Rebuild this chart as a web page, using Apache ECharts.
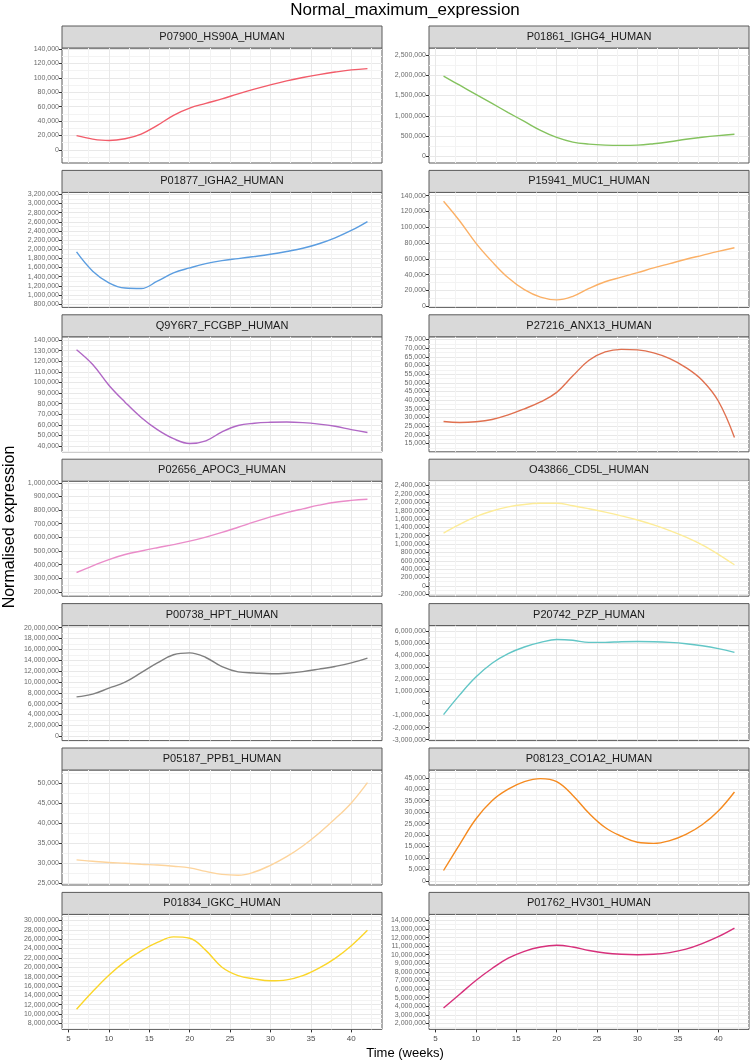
<!DOCTYPE html>
<html>
<head>
<meta charset="utf-8">
<script src="https://cdn.jsdelivr.net/npm/echarts@6/dist/echarts.min.js"></script>
<style>
html, body { margin: 0; padding: 0; background: #fff; }
#chart { width: 752px; height: 1063px; }
</style>
</head>
<body>
<div id="chart"></div>
<script>
// time points (weeks) shared by every panel
var weeks = [6, 8, 10, 12, 14, 16, 18, 20, 22, 24, 26, 28, 30, 32, 34, 36, 38, 40, 42];

var proteins = ['P07900_HS90A_HUMAN', 'P01861_IGHG4_HUMAN', 'P01877_IGHA2_HUMAN', 'P15941_MUC1_HUMAN',
  'Q9Y6R7_FCGBP_HUMAN', 'P27216_ANX13_HUMAN', 'P02656_APOC3_HUMAN', 'O43866_CD5L_HUMAN',
  'P00738_HPT_HUMAN', 'P20742_PZP_HUMAN', 'P05187_PPB1_HUMAN', 'P08123_CO1A2_HUMAN',
  'P01834_IGKC_HUMAN', 'P01762_HV301_HUMAN'];

var colors = ['#f25c6a', '#84c25e', '#5b9de0', '#fbb066', '#b067c5', '#e0704f', '#ea8cc9',
  '#fdec98', '#7f7f7f', '#62c6c6', '#fdd49c', '#f58a1f', '#fbd629', '#d7307b'];

var hs90a = [19700, 15000, 13000, 15500, 22000, 34000, 48000, 58000, 64500, 70800, 77800, 84300, 90300, 95800, 100500, 104500, 108000, 111000, 112800];
var ighg4 = [1980000, 1755000, 1530000, 1305000, 1080000, 860000, 640000, 465000, 350000, 300000, 275000, 268000, 275000, 310000, 360000, 420000, 470000, 510000, 542000];
var igha2 = [1940000, 1520000, 1265000, 1150000, 1140000, 1300000, 1480000, 1590000, 1685000, 1750000, 1795000, 1840000, 1890000, 1950000, 2020000, 2120000, 2250000, 2410000, 2605000];
var muc1 = [133000, 108000, 80000, 56500, 36000, 21000, 11500, 8000, 12500, 22500, 31000, 36800, 42500, 48500, 54000, 59500, 64500, 69500, 74000];
var fcgbp = [131000, 117000, 97500, 81500, 67000, 55500, 47000, 42500, 45000, 53500, 59500, 61600, 62500, 62800, 62200, 60800, 58700, 55600, 52900];
var anx13 = [27700, 27100, 27500, 28800, 31500, 35000, 39000, 44500, 54000, 63000, 67800, 69300, 69000, 67300, 64000, 58800, 51500, 39500, 18500];
var apoc3 = [342000, 391000, 437000, 474000, 500000, 524000, 547000, 572000, 602000, 636000, 674000, 713000, 750000, 781000, 809000, 836000, 858000, 871000, 880000];
var cd5l = [1264000, 1470000, 1655000, 1790000, 1890000, 1948000, 1975000, 1978000, 1918000, 1845000, 1765000, 1675000, 1575000, 1458000, 1322000, 1165000, 980000, 755000, 504000];
var hpt = [7250000, 7750000, 8850000, 9950000, 11700000, 13500000, 15000000, 15350000, 14500000, 12800000, 11850000, 11650000, 11500000, 11600000, 11900000, 12350000, 12850000, 13500000, 14380000];
var pzp = [-920000, 720000, 2200000, 3350000, 4150000, 4700000, 5080000, 5320000, 5260000, 5080000, 5080000, 5140000, 5160000, 5140000, 5080000, 4970000, 4800000, 4560000, 4250000];
var ppb1 = [30800, 30450, 30150, 29950, 29700, 29500, 29200, 28800, 27900, 27150, 26950, 27750, 29450, 31600, 34300, 37500, 41100, 45100, 50200];
var co1a2 = [4560, 16000, 27000, 35000, 40000, 43300, 44600, 43300, 37300, 29500, 23300, 19500, 16900, 16400, 17600, 20300, 24500, 30500, 38800];
var igkc = [11000000, 14800000, 18300000, 21200000, 23500000, 25300000, 26500000, 26200000, 23600000, 20000000, 18200000, 17500000, 17100000, 17300000, 18200000, 19800000, 21900000, 24600000, 27900000];
var hv301 = [3800000, 5400000, 7000000, 8400000, 9600000, 10400000, 10900000, 11100000, 10900000, 10500000, 10200000, 10050000, 10000000, 10050000, 10250000, 10650000, 11300000, 12100000, 13100000];

var seriesValues = [hs90a, ighg4, igha2, muc1, fcgbp, anx13, apoc3, cd5l, hpt, pzp, ppb1, co1a2, igkc, hv301];

// y axis extents and tick labels for every panel
var yMin = [-18200, -166700, 726000, -1500, 34650, 10190, 168200, -248000, -802000, -3084000, 24495, -1765, 6700000, 1300000];
var yMax = [141400, 2675000, 3244000, 144200, 143150, 76540, 1012000, 2504000, 20370000, 6478000, 53367, 48380, 31300000, 14700000];
var yTickFrom = [0, 0, 800000, 0, 40000, 15000, 200000, -200000, 0, -3000000, 25000, 0, 8000000, 2000000];
var yTickTo = [140000, 2500000, 3200000, 140000, 140000, 75000, 1000000, 2400000, 20000000, 6000000, 50000, 45000, 30000000, 14000000];
var yTickStep = [20000, 500000, 200000, 20000, 10000, 5000, 100000, 200000, 2000000, 1000000, 5000, 5000, 2000000, 1000000];

var xTicks = [5, 10, 15, 20, 25, 30, 35, 40];
var xMinorTicks = [7.5, 12.5, 17.5, 22.5, 27.5, 32.5, 37.5, 42.5];

var FONT = '"Liberation Sans", Arial, sans-serif';

function range(a, b, s) {
  var out = [];
  for (var v = a; v <= b + s * 1e-6; v += s) out.push(Math.round(v));
  return out;
}

var chart = echarts.init(document.getElementById('chart'));
var grids = [], xAxes = [], yAxes = [], series = [], graphics = [];

for (var i = 0; i < proteins.length; i++) {
  var col = i % 2, row = Math.floor(i / 2);
  var gridLeft = col === 0 ? 62 : 429;
  var stripTop = 26 + row * 144.4;
  var gridTop = stripTop + 22;
  var isBottom = row === 6;

  grids.push({ left: gridLeft, top: gridTop, width: 320, height: 115, show: true,
    backgroundColor: '#ffffff', borderColor: '#5a5a5a', borderWidth: 1 });

  var majors = range(yTickFrom[i], yTickTo[i], yTickStep[i]);
  var minors = range(yTickFrom[i] - yTickStep[i] / 2, yTickTo[i] + yTickStep[i] / 2, yTickStep[i])
    .filter(function (v) { return v > yMin[i] && v < yMax[i]; });

  // major grid + labels, then a label-less axis for the minor grid
  xAxes.push({
    gridIndex: i, type: 'value', min: 4.2, max: 43.8, position: 'bottom',
    axisLine: { show: false },
    axisTick: { show: isBottom, customValues: xTicks, length: 3, lineStyle: { color: '#333' } },
    axisLabel: { show: isBottom, customValues: xTicks, fontSize: 8, color: '#4d4d4d', margin: 5, fontFamily: FONT },
    splitLine: { show: true, lineStyle: { color: '#e8e8e8', width: 1 } }
  });
  xAxes.push({
    gridIndex: i, type: 'value', min: 4.2, max: 43.8, position: 'bottom',
    axisLine: { show: false },
    axisTick: { show: false, customValues: xMinorTicks },
    axisLabel: { show: false, customValues: xMinorTicks },
    splitLine: { show: true, lineStyle: { color: '#f3f3f3', width: 1 } }
  });
  yAxes.push({
    gridIndex: i, type: 'value', min: yMin[i], max: yMax[i], position: 'left',
    axisLine: { show: false },
    axisTick: { show: true, customValues: majors, length: 3, lineStyle: { color: '#333' } },
    axisLabel: { show: true, customValues: majors, fontSize: 7, color: '#6b6b6b', margin: 3, fontFamily: FONT,
      formatter: function (v) { return Number(v).toLocaleString('en-US'); } },
    splitLine: { show: true, lineStyle: { color: '#e8e8e8', width: 1 } }
  });
  yAxes.push({
    gridIndex: i, type: 'value', min: yMin[i], max: yMax[i], position: 'left',
    axisLine: { show: false },
    axisTick: { show: false, customValues: minors },
    axisLabel: { show: false, customValues: minors },
    splitLine: { show: true, lineStyle: { color: '#f3f3f3', width: 1 } }
  });

  series.push({
    type: 'line', name: proteins[i], xAxisIndex: 2 * i, yAxisIndex: 2 * i,
    data: weeks.map(function (w, k) { return [w, seriesValues[i][k]]; }),
    smooth: 0.4, showSymbol: false, symbol: 'none',
    lineStyle: { color: colors[i], width: 1.4 }, z: 5
  });

  graphics.push({
    type: 'rect', shape: { x: gridLeft, y: stripTop, width: 320, height: 22 },
    style: { fill: '#d9d9d9', stroke: '#5a5a5a', lineWidth: 1 }
  });
  graphics.push({
    type: 'text', x: gridLeft + 160, y: stripTop + 11,
    style: { text: proteins[i], fill: '#1a1a1a', font: '11px ' + FONT, align: 'center', verticalAlign: 'middle' }
  });
}

graphics.push({
  type: 'text', x: 405, y: 10,
  style: { text: 'Normal_maximum_expression', fill: '#000', font: '17px ' + FONT, align: 'center', verticalAlign: 'middle' }
});
graphics.push({
  type: 'text', x: 405, y: 1053,
  style: { text: 'Time (weeks)', fill: '#000', font: '13px ' + FONT, align: 'center', verticalAlign: 'middle' }
});
graphics.push({
  type: 'text', x: 10, y: 527, rotation: Math.PI / 2,
  style: { text: 'Normalised expression', fill: '#000', font: '16px ' + FONT, align: 'center', verticalAlign: 'middle' }
});

chart.setOption({
  animation: false,
  backgroundColor: '#ffffff',
  grid: grids,
  xAxis: xAxes,
  yAxis: yAxes,
  series: series,
  graphic: graphics
});
</script>
</body>
</html>
